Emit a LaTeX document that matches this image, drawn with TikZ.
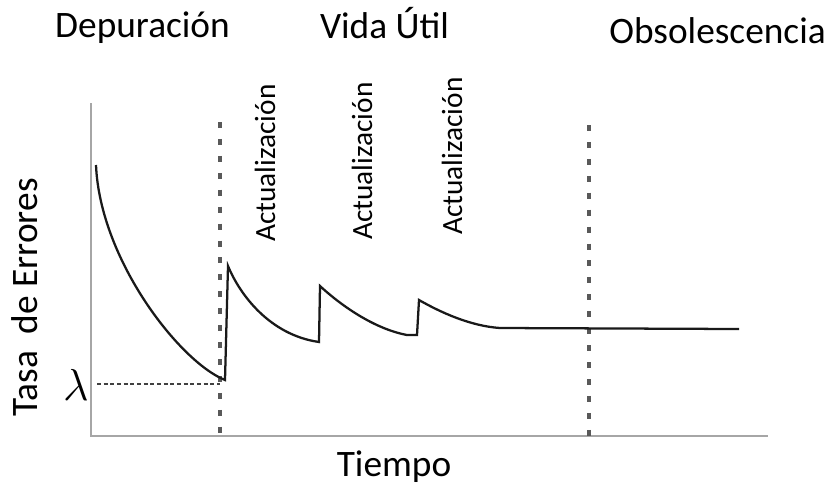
\documentclass[tikz,border=0pt]{standalone}
\usepackage{fontspec}
\setmainfont{Carlito}
\begin{document}
\begin{tikzpicture}[x=0.75pt,y=-0.75pt]
\tikzstyle{every node}=[inner sep=0pt,font=\fontsize{28}{30}\selectfont];
\tikzstyle{eje}=[draw=black!35,line width=1.9pt];
\tikzstyle{corte}=[draw=black!65,line width=2.3pt,dash pattern=on 4.5pt off 8.2pt];
\tikzstyle{curva}=[draw=black!90,line width=1.7pt];
\tikzstyle{act}=[rotate=90,anchor=base west,font=\fontsize{22}{24}\selectfont];
\useasboundingbox (0,0) rectangle (827,487);
\coordinate (O) at (91,436);
\coordinate (Y) at (91,103);
\coordinate (X) at (768,436);
\coordinate (c1) at (220,122);
\coordinate (c1b) at (220,436);
\coordinate (c2) at (589,125);
\coordinate (c2b) at (589,436);
\coordinate (l1) at (97,384);
\coordinate (l2) at (220,384);
\node[anchor=base] (Depuracion) at (142.5,37) {Depuración};
\node[anchor=base] (Vida) at (384.5,38) {Vida Útil};
\node[anchor=base] (Obsolescencia) at (717.5,43) {Obsolescencia};
\node[anchor=base] (Tiempo) at (394,476) {Tiempo};
\node[anchor=base,rotate=90] (Tasa) at (37,297.5) {Tasa\ \ de Errores};
\node[act] (a1) at (275,242) {Actualización};
\node[act] (a2) at (372,240) {Actualización};
\node[act] (a3) at (462,235) {Actualización};
\node (lambda) at (76,385) {\scalebox{1.35}{$\lambda$}};
\draw[eje] (Y) -- (O) -- (X);
\draw[corte] (c1) -- (c1b);
\draw[corte] (c2) -- (c2b);
\draw[draw=black!75,line width=2.2pt,dash pattern=on 3pt off 2pt] (l1) -- (l2);
\draw[curva]
(96,165) .. controls (100,260) and (180,362) .. (225,380) -- (228,266)
.. controls (240,295) and (270,335) .. (319,342) -- (320,286)
.. controls (335,300) and (370,328) .. (407,335) -- (417,335) -- (419,300)
.. controls (440,312) and (470,326) .. (500,328) -- (739,329)
;
\end{tikzpicture}
\end{document}
